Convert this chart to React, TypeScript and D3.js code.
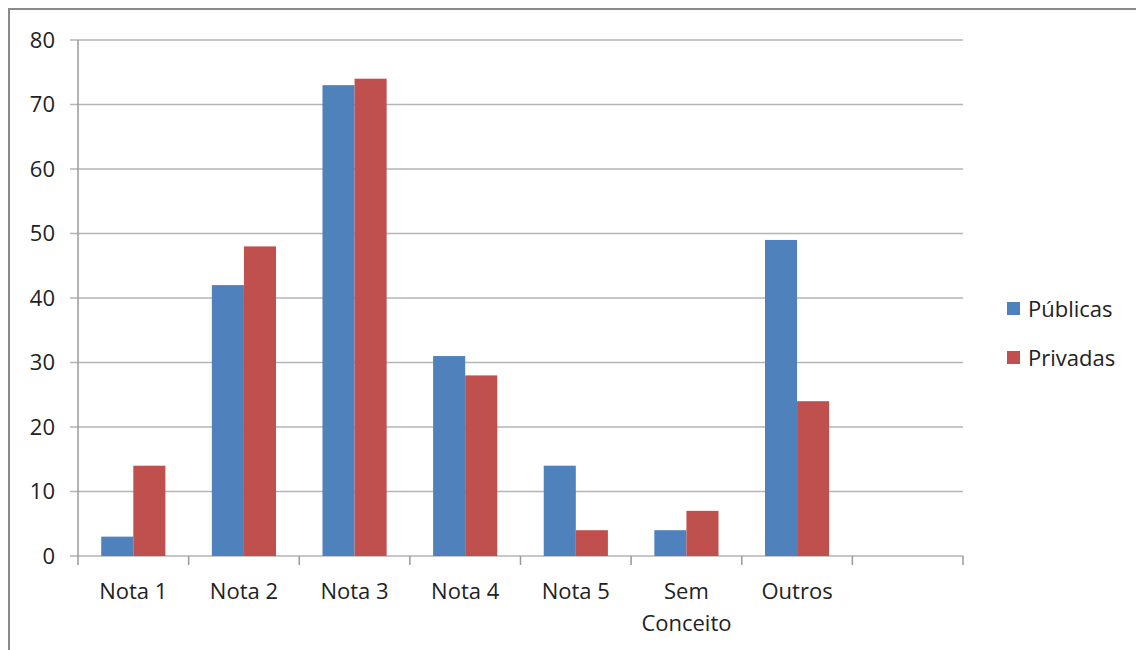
import React from "react";
import * as d3 from "d3";

const categories = ["Nota 1", "Nota 2", "Nota 3", "Nota 4", "Nota 5", "Sem Conceito", "Outros", ""];
const seriesNames = ["Públicas", "Privadas"];
const publicas = [3, 42, 73, 31, 14, 4, 49];
const privadas = [14, 48, 74, 28, 4, 7, 24];
const yTicks = [0, 10, 20, 30, 40, 50, 60, 70, 80];
const colors = ["#4F81BD", "#C0504D"];

const W = 1136;
const H = 650;
const FONT = "'Open Sans', 'Noto Sans', sans-serif";
const FS = 22;

export default function App() {
  const x = d3.scaleBand<string>().domain(categories.map((c, i) => String(i))).range([78, 963]).paddingInner(0).paddingOuter(0);
  const y = d3.scaleLinear().domain([0, 80]).range([556, 40]);
  const barW = x.bandwidth() * 0.29;
  const series = [publicas, privadas];

  const labelLines = (c: string) => (c === "Sem Conceito" ? ["Sem", "Conceito"] : [c]);

  return (
    <div style={{ position: "fixed", left: 0, top: 0 }}>
      <svg width={W} height={H} style={{ display: "block", background: "#fff" }} fontFamily={FONT}>
        <rect x={9} y={9} width={W} height={H} fill="#fff" stroke="#8a8a8a" strokeWidth={2} />
        {yTicks.map((t) => (
          <g key={t}>
            <line x1={70} x2={963} y1={y(t)} y2={y(t)} stroke="#b5b5b5" strokeWidth={1.5} />
            <text x={55} y={y(t)} dy="0.35em" textAnchor="end" fontSize={FS} fill="#222">
              {t}
            </text>
          </g>
        ))}
        <line x1={78} x2={78} y1={40} y2={556} stroke="#9a9a9a" strokeWidth={1.5} />
        {categories.map((c, i) => (
          <line key={"t" + i} x1={x(String(i))!} x2={x(String(i))!} y1={556} y2={565} stroke="#9a9a9a" strokeWidth={1.5} />
        ))}
        <line x1={963} x2={963} y1={556} y2={565} stroke="#9a9a9a" strokeWidth={1.5} />
        {series.map((vals, si) =>
          vals.map((v, i) => {
            const cx = x(String(i))! + x.bandwidth() / 2;
            const bx = cx - barW + si * barW;
            return <rect key={si + "-" + i} x={bx} y={y(v)} width={barW} height={y(0) - y(v)} fill={colors[si]} />;
          })
        )}
        {categories.map((c, i) => {
          const cx = x(String(i))! + x.bandwidth() / 2;
          return (
            <text key={"l" + i} x={cx} y={599} textAnchor="middle" fontSize={FS} fill="#222">
              {labelLines(c).map((ln, k) => (
                <tspan key={k} x={cx} dy={k === 0 ? 0 : 32}>
                  {ln}
                </tspan>
              ))}
            </text>
          );
        })}
        {seriesNames.map((n, i) => (
          <g key={n} transform={`translate(1007, ${302 + i * 49})`}>
            <rect x={0} y={0} width={13} height={13} fill={colors[i]} />
            <text x={21} y={7} dy="0.35em" fontSize={FS} fill="#222">
              {n}
            </text>
          </g>
        ))}
      </svg>
    </div>
  );
}
